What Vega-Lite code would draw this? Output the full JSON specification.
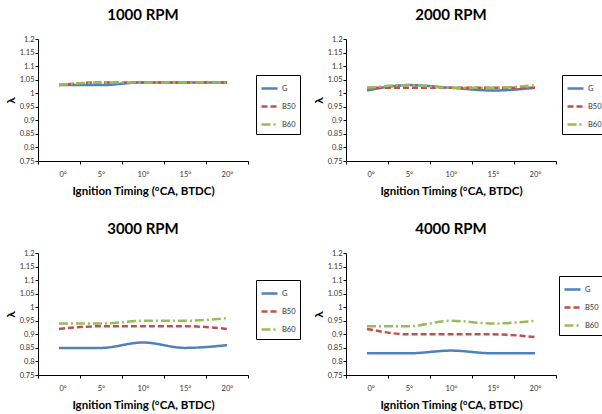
{
  "$schema": "https://vega.github.io/schema/vega-lite/v6.json",
  "background": "white",
  "padding": {"left": 4, "top": 8, "right": 0, "bottom": 0},
  "spacing": {"row": 25, "column": 11},
  "config": {
    "font": "Lato",
    "view": {"stroke": null},
    "title": {"fontSize": 15, "fontWeight": "bold", "color": "#000000", "offset": 12, "font": "Lato"},
    "axis": {
      "domainColor": "#000000", "tickColor": "#000000", "tickSize": 3,
      "labelFontSize": 7.5, "labelColor": "#333333", "grid": false,
      "titleFontSize": 11.5, "titleFontWeight": "bold", "titleColor": "#000000"
    },
    "legend": {
      "strokeColor": "#000000", "padding": 4, "symbolType": "stroke",
      "symbolSize": 256, "symbolStrokeWidth": 2.5, "labelFontSize": 7.5,
      "rowPadding": 3, "labelOffset": 3, "labelColor": "#333333", "orient": "none"
    }
  },
  "datasets": {
    "d": [
      {"rpm": 1000, "fuel": "G", "timing": 0, "lambda": 1.03},
      {"rpm": 1000, "fuel": "G", "timing": 5, "lambda": 1.03},
      {"rpm": 1000, "fuel": "G", "timing": 10, "lambda": 1.04},
      {"rpm": 1000, "fuel": "G", "timing": 15, "lambda": 1.04},
      {"rpm": 1000, "fuel": "G", "timing": 20, "lambda": 1.04},
      {"rpm": 1000, "fuel": "B50", "timing": 0, "lambda": 1.03},
      {"rpm": 1000, "fuel": "B50", "timing": 5, "lambda": 1.04},
      {"rpm": 1000, "fuel": "B50", "timing": 10, "lambda": 1.04},
      {"rpm": 1000, "fuel": "B50", "timing": 15, "lambda": 1.04},
      {"rpm": 1000, "fuel": "B50", "timing": 20, "lambda": 1.04},
      {"rpm": 1000, "fuel": "B60", "timing": 0, "lambda": 1.03},
      {"rpm": 1000, "fuel": "B60", "timing": 5, "lambda": 1.04},
      {"rpm": 1000, "fuel": "B60", "timing": 10, "lambda": 1.04},
      {"rpm": 1000, "fuel": "B60", "timing": 15, "lambda": 1.04},
      {"rpm": 1000, "fuel": "B60", "timing": 20, "lambda": 1.04},
      {"rpm": 2000, "fuel": "G", "timing": 0, "lambda": 1.01},
      {"rpm": 2000, "fuel": "G", "timing": 5, "lambda": 1.03},
      {"rpm": 2000, "fuel": "G", "timing": 10, "lambda": 1.02},
      {"rpm": 2000, "fuel": "G", "timing": 15, "lambda": 1.01},
      {"rpm": 2000, "fuel": "G", "timing": 20, "lambda": 1.02},
      {"rpm": 2000, "fuel": "B50", "timing": 0, "lambda": 1.02},
      {"rpm": 2000, "fuel": "B50", "timing": 5, "lambda": 1.02},
      {"rpm": 2000, "fuel": "B50", "timing": 10, "lambda": 1.02},
      {"rpm": 2000, "fuel": "B50", "timing": 15, "lambda": 1.02},
      {"rpm": 2000, "fuel": "B50", "timing": 20, "lambda": 1.02},
      {"rpm": 2000, "fuel": "B60", "timing": 0, "lambda": 1.02},
      {"rpm": 2000, "fuel": "B60", "timing": 5, "lambda": 1.03},
      {"rpm": 2000, "fuel": "B60", "timing": 10, "lambda": 1.02},
      {"rpm": 2000, "fuel": "B60", "timing": 15, "lambda": 1.02},
      {"rpm": 2000, "fuel": "B60", "timing": 20, "lambda": 1.03},
      {"rpm": 3000, "fuel": "G", "timing": 0, "lambda": 0.85},
      {"rpm": 3000, "fuel": "G", "timing": 5, "lambda": 0.85},
      {"rpm": 3000, "fuel": "G", "timing": 10, "lambda": 0.87},
      {"rpm": 3000, "fuel": "G", "timing": 15, "lambda": 0.85},
      {"rpm": 3000, "fuel": "G", "timing": 20, "lambda": 0.86},
      {"rpm": 3000, "fuel": "B50", "timing": 0, "lambda": 0.92},
      {"rpm": 3000, "fuel": "B50", "timing": 5, "lambda": 0.93},
      {"rpm": 3000, "fuel": "B50", "timing": 10, "lambda": 0.93},
      {"rpm": 3000, "fuel": "B50", "timing": 15, "lambda": 0.93},
      {"rpm": 3000, "fuel": "B50", "timing": 20, "lambda": 0.92},
      {"rpm": 3000, "fuel": "B60", "timing": 0, "lambda": 0.94},
      {"rpm": 3000, "fuel": "B60", "timing": 5, "lambda": 0.94},
      {"rpm": 3000, "fuel": "B60", "timing": 10, "lambda": 0.95},
      {"rpm": 3000, "fuel": "B60", "timing": 15, "lambda": 0.95},
      {"rpm": 3000, "fuel": "B60", "timing": 20, "lambda": 0.96},
      {"rpm": 4000, "fuel": "G", "timing": 0, "lambda": 0.83},
      {"rpm": 4000, "fuel": "G", "timing": 5, "lambda": 0.83},
      {"rpm": 4000, "fuel": "G", "timing": 10, "lambda": 0.84},
      {"rpm": 4000, "fuel": "G", "timing": 15, "lambda": 0.83},
      {"rpm": 4000, "fuel": "G", "timing": 20, "lambda": 0.83},
      {"rpm": 4000, "fuel": "B50", "timing": 0, "lambda": 0.92},
      {"rpm": 4000, "fuel": "B50", "timing": 5, "lambda": 0.90},
      {"rpm": 4000, "fuel": "B50", "timing": 10, "lambda": 0.90},
      {"rpm": 4000, "fuel": "B50", "timing": 15, "lambda": 0.90},
      {"rpm": 4000, "fuel": "B50", "timing": 20, "lambda": 0.89},
      {"rpm": 4000, "fuel": "B60", "timing": 0, "lambda": 0.93},
      {"rpm": 4000, "fuel": "B60", "timing": 5, "lambda": 0.93},
      {"rpm": 4000, "fuel": "B60", "timing": 10, "lambda": 0.95},
      {"rpm": 4000, "fuel": "B60", "timing": 15, "lambda": 0.94},
      {"rpm": 4000, "fuel": "B60", "timing": 20, "lambda": 0.95}
    ]
  },
  "columns": 2,
  "resolve": {"legend": {"color": "independent", "strokeDash": "independent"}, "scale": {"color": "independent", "strokeDash": "independent"}},
  "concat": [
    {
      "title": "1000 RPM", "width": 210, "height": 122,
      "data": {"name": "d"},
      "transform": [{"filter": "datum.rpm == 1000"}],
      "mark": {"type": "line", "interpolate": "monotone", "strokeWidth": 2.5},
      "encoding": {
        "x": {"field": "timing", "type": "quantitative", "scale": {"domain": [-2.5, 22.5], "nice": false, "zero": false},
          "axis": {"values": [-2.5, 2.5, 7.5, 12.5, 17.5, 22.5], "labelExpr": "datum.value < 20 ? format(datum.value + 2.5, 'd') + '°' : ''", "labelOffset": 21, "labelPadding": 6, "title": "Ignition Timing (°CA, BTDC)", "titlePadding": 8}},
        "y": {"field": "lambda", "type": "quantitative", "scale": {"domain": [0.75, 1.2], "nice": false, "zero": false},
          "axis": {"values": [0.75, 0.8, 0.85, 0.9, 0.95, 1, 1.05, 1.1, 1.15, 1.2], "format": "~g", "title": "λ", "titleFontSize": 12, "titlePadding": 2, "labelPadding": 1}},
        "color": {"field": "fuel", "type": "nominal", "scale": {"domain": ["G", "B50", "B60"], "range": ["#4F81BD", "#C0504D", "#9BBB59"]}, "legend": {"title": null, "legendX": 218, "legendY": 36}},
        "strokeDash": {"field": "fuel", "type": "nominal", "scale": {"domain": ["G", "B50", "B60"], "range": [[1, 0], [6, 3], [9, 3, 2, 3]]}, "legend": {"title": null, "legendX": 218, "legendY": 36}}
      }
    },
    {
      "title": "2000 RPM", "width": 210, "height": 122,
      "data": {"name": "d"},
      "transform": [{"filter": "datum.rpm == 2000"}],
      "mark": {"type": "line", "interpolate": "monotone", "strokeWidth": 2.5},
      "encoding": {
        "x": {"field": "timing", "type": "quantitative", "scale": {"domain": [-2.5, 22.5], "nice": false, "zero": false},
          "axis": {"values": [-2.5, 2.5, 7.5, 12.5, 17.5, 22.5], "labelExpr": "datum.value < 20 ? format(datum.value + 2.5, 'd') + '°' : ''", "labelOffset": 21, "labelPadding": 6, "title": "Ignition Timing (°CA, BTDC)", "titlePadding": 8}},
        "y": {"field": "lambda", "type": "quantitative", "scale": {"domain": [0.75, 1.2], "nice": false, "zero": false},
          "axis": {"values": [0.75, 0.8, 0.85, 0.9, 0.95, 1, 1.05, 1.1, 1.15, 1.2], "format": "~g", "title": "λ", "titleFontSize": 12, "titlePadding": 2, "labelPadding": 1}},
        "color": {"field": "fuel", "type": "nominal", "scale": {"domain": ["G", "B50", "B60"], "range": ["#4F81BD", "#C0504D", "#9BBB59"]}, "legend": {"title": null, "legendX": 216, "legendY": 36}},
        "strokeDash": {"field": "fuel", "type": "nominal", "scale": {"domain": ["G", "B50", "B60"], "range": [[1, 0], [6, 3], [9, 3, 2, 3]]}, "legend": {"title": null, "legendX": 216, "legendY": 36}}
      }
    },
    {
      "title": "3000 RPM", "width": 210, "height": 122,
      "data": {"name": "d"},
      "transform": [{"filter": "datum.rpm == 3000"}],
      "mark": {"type": "line", "interpolate": "monotone", "strokeWidth": 2.5},
      "encoding": {
        "x": {"field": "timing", "type": "quantitative", "scale": {"domain": [-2.5, 22.5], "nice": false, "zero": false},
          "axis": {"values": [-2.5, 2.5, 7.5, 12.5, 17.5, 22.5], "labelExpr": "datum.value < 20 ? format(datum.value + 2.5, 'd') + '°' : ''", "labelOffset": 21, "labelPadding": 6, "title": "Ignition Timing (°CA, BTDC)", "titlePadding": 8}},
        "y": {"field": "lambda", "type": "quantitative", "scale": {"domain": [0.75, 1.2], "nice": false, "zero": false},
          "axis": {"values": [0.75, 0.8, 0.85, 0.9, 0.95, 1, 1.05, 1.1, 1.15, 1.2], "format": "~g", "title": "λ", "titleFontSize": 12, "titlePadding": 2, "labelPadding": 1}},
        "color": {"field": "fuel", "type": "nominal", "scale": {"domain": ["G", "B50", "B60"], "range": ["#4F81BD", "#C0504D", "#9BBB59"]}, "legend": {"title": null, "legendX": 218, "legendY": 27}},
        "strokeDash": {"field": "fuel", "type": "nominal", "scale": {"domain": ["G", "B50", "B60"], "range": [[1, 0], [6, 3], [9, 3, 2, 3]]}, "legend": {"title": null, "legendX": 218, "legendY": 27}}
      }
    },
    {
      "title": "4000 RPM", "width": 210, "height": 122,
      "data": {"name": "d"},
      "transform": [{"filter": "datum.rpm == 4000"}],
      "mark": {"type": "line", "interpolate": "monotone", "strokeWidth": 2.5},
      "encoding": {
        "x": {"field": "timing", "type": "quantitative", "scale": {"domain": [-2.5, 22.5], "nice": false, "zero": false},
          "axis": {"values": [-2.5, 2.5, 7.5, 12.5, 17.5, 22.5], "labelExpr": "datum.value < 20 ? format(datum.value + 2.5, 'd') + '°' : ''", "labelOffset": 21, "labelPadding": 6, "title": "Ignition Timing (°CA, BTDC)", "titlePadding": 8}},
        "y": {"field": "lambda", "type": "quantitative", "scale": {"domain": [0.75, 1.2], "nice": false, "zero": false},
          "axis": {"values": [0.75, 0.8, 0.85, 0.9, 0.95, 1, 1.05, 1.1, 1.15, 1.2], "format": "~g", "title": "λ", "titleFontSize": 12, "titlePadding": 2, "labelPadding": 1}},
        "color": {"field": "fuel", "type": "nominal", "scale": {"domain": ["G", "B50", "B60"], "range": ["#4F81BD", "#C0504D", "#9BBB59"]}, "legend": {"title": null, "legendX": 213, "legendY": 23}},
        "strokeDash": {"field": "fuel", "type": "nominal", "scale": {"domain": ["G", "B50", "B60"], "range": [[1, 0], [6, 3], [9, 3, 2, 3]]}, "legend": {"title": null, "legendX": 213, "legendY": 23}}
      }
    }
  ]
}
